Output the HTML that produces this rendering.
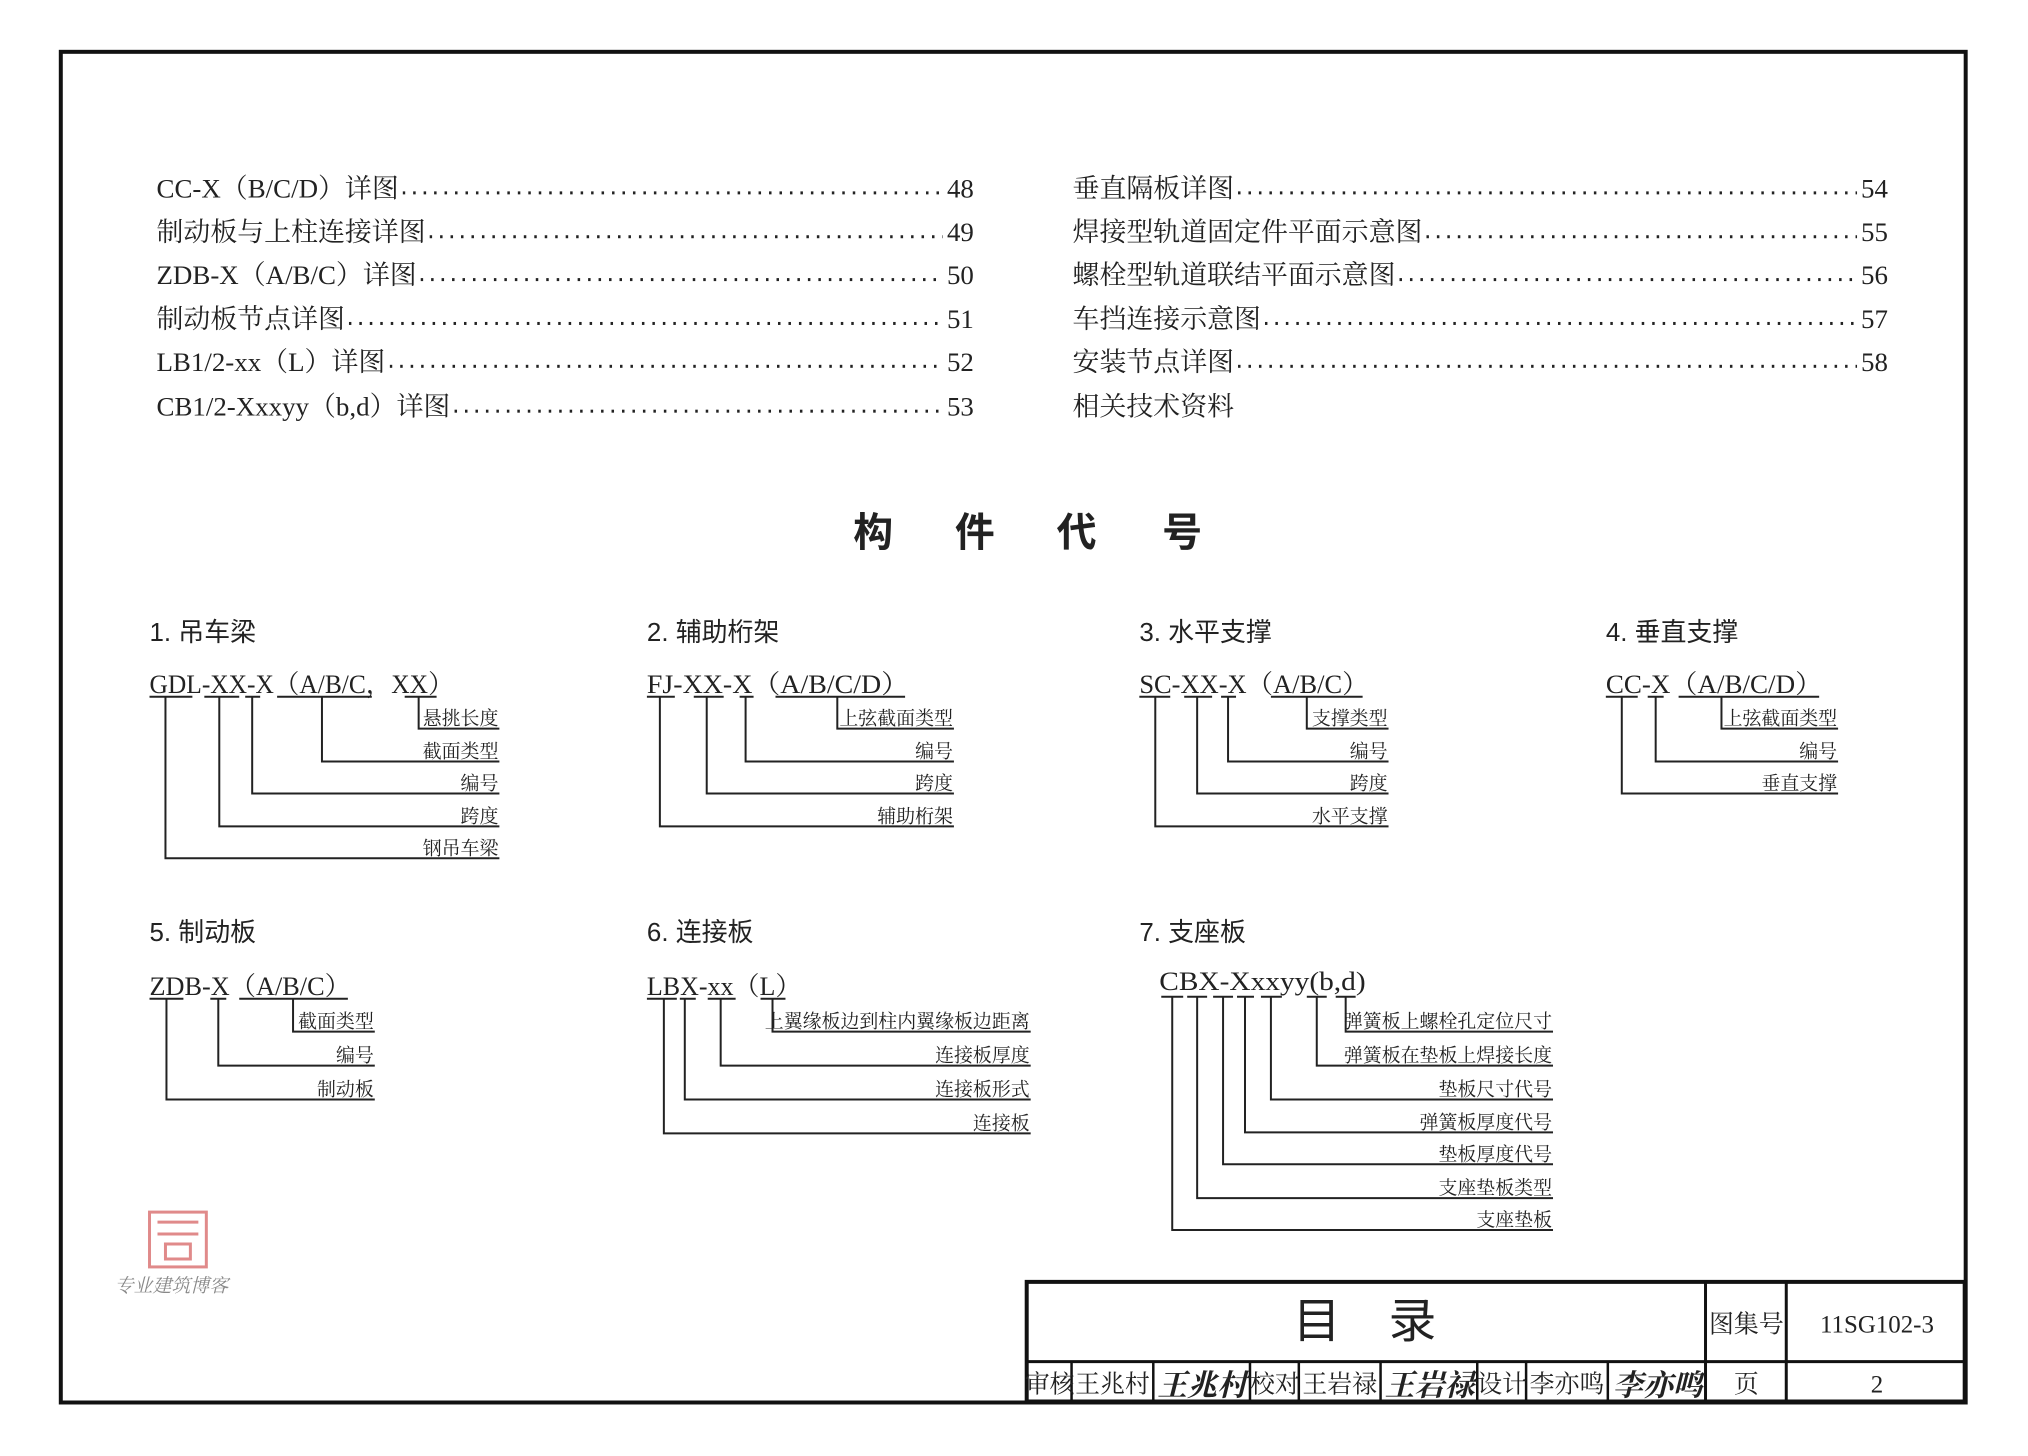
<!DOCTYPE html>
<html><head><meta charset="utf-8"><style>
html,body{margin:0;padding:0;background:#fff}
body{width:2028px;height:1456px;position:relative;overflow:hidden}
#w{position:absolute;left:0;top:0;width:2028px;height:1456px;transform:translate(-2px,-2px) scale(0.9968);transform-origin:0 0}
.t{position:absolute;font-family:"Liberation Serif","Noto Serif CJK SC",serif;font-size:27px;color:#222;height:34px;line-height:34px;display:flex;white-space:nowrap}
.t .d{flex:1;margin:0 4px;height:34px;background-image:linear-gradient(to right,#222 2.6px,transparent 2.6px);background-size:10.5px 2.6px;background-position:0 20px;background-repeat:repeat-x}
</style></head><body><div id="w">
<div style="position:absolute;left:61px;top:52px;width:1907px;height:1351px;border:4px solid #111"></div>

<div class="t" style="left:159px;top:174px;width:820px"><span>CC-X（B/C/D）详图</span><span class="d"></span><span>48</span></div>
<div class="t" style="left:159px;top:218px;width:820px"><span>制动板与上柱连接详图</span><span class="d"></span><span>49</span></div>
<div class="t" style="left:159px;top:261px;width:820px"><span>ZDB-X（A/B/C）详图</span><span class="d"></span><span>50</span></div>
<div class="t" style="left:159px;top:305px;width:820px"><span>制动板节点详图</span><span class="d"></span><span>51</span></div>
<div class="t" style="left:159px;top:348px;width:820px"><span>LB1/2-xx（L）详图</span><span class="d"></span><span>52</span></div>
<div class="t" style="left:159px;top:393px;width:820px"><span>CB1/2-Xxxyy（b,d）详图</span><span class="d"></span><span>53</span></div>

<div class="t" style="left:1078px;top:174px;width:818px"><span>垂直隔板详图</span><span class="d"></span><span>54</span></div>
<div class="t" style="left:1078px;top:218px;width:818px"><span>焊接型轨道固定件平面示意图</span><span class="d"></span><span>55</span></div>
<div class="t" style="left:1078px;top:261px;width:818px"><span>螺栓型轨道联结平面示意图</span><span class="d"></span><span>56</span></div>
<div class="t" style="left:1078px;top:305px;width:818px"><span>车挡连接示意图</span><span class="d"></span><span>57</span></div>
<div class="t" style="left:1078px;top:348px;width:818px"><span>安装节点详图</span><span class="d"></span><span>58</span></div>
<div class="t" style="left:1078px;top:393px;width:818px"><span>相关技术资料</span></div>

<svg width="2028" height="1456" style="position:absolute;left:0;top:0" font-family="Liberation Serif,Noto Serif CJK SC,serif" fill="#222">
<g font-family="Liberation Sans,Noto Sans CJK SC,sans-serif" font-weight="bold" font-size="40">
<text x="858" y="550">构</text><text x="960" y="550">件</text><text x="1062" y="550">代</text><text x="1168" y="550">号</text>
</g>
<g font-family="Liberation Sans,Noto Sans CJK SC,sans-serif" font-size="26">
<text x="152" y="645">1. 吊车梁</text><text x="651" y="645">2. 辅助桁架</text><text x="1145" y="645">3. 水平支撑</text><text x="1613" y="645">4. 垂直支撑</text>
<text x="152" y="946">5. 制动板</text><text x="651" y="946">6. 连接板</text><text x="1145" y="946">7. 支座板</text>
</g>
<g font-size="26">
<text x="152" y="697" textLength="305" lengthAdjust="spacingAndGlyphs">GDL-XX-X（A/B/C，XX）</text>
<text x="651" y="697" textLength="263" lengthAdjust="spacingAndGlyphs">FJ-XX-X（A/B/C/D）</text>
<text x="1145" y="697" textLength="230" lengthAdjust="spacingAndGlyphs">SC-XX-X（A/B/C）</text>
<text x="1613" y="697" textLength="217" lengthAdjust="spacingAndGlyphs">CC-X（A/B/C/D）</text>
<text x="152" y="1000" textLength="202" lengthAdjust="spacingAndGlyphs">ZDB-X（A/B/C）</text>
<text x="651" y="1000" textLength="155" lengthAdjust="spacingAndGlyphs">LBX-xx（L）</text>
<text x="1165" y="995" textLength="207" lengthAdjust="spacingAndGlyphs">CBX-Xxxyy(b,d)</text>
</g>
<g stroke="#222" stroke-width="2" fill="none">
<path d="M152 701H195M207 701H242M248 701H263M280 701H375M408 701H440"/>
<path d="M422 701V733H503M325 701V766H503M255 701V798H503M222 701V831H503M168 701V863H503"/>
<path d="M651 701H679M698 701H728M744 701H758M780 701H910"/>
<path d="M842 701V733H959M750 701V766H959M711 701V798H959M664 701V831H959"/>
<path d="M1145 701H1176M1190 701H1218M1227 701H1242M1277 701H1369"/>
<path d="M1313 701V733H1395M1234 701V766H1395M1203 701V798H1395M1161 701V831H1395"/>
<path d="M1613 701H1645M1655 701H1671M1686 701H1827"/>
<path d="M1729 701V733H1846M1663 701V766H1846M1629 701V798H1846"/>
<path d="M152 1004H186M213 1004H229M242 1004H351"/>
<path d="M296 1004V1037H378M221 1004V1071H378M169 1004V1105H378"/>
<path d="M651 1004H681M684 1004H700M712 1004H740M765 1004H790"/>
<path d="M777 1004V1037H1036M725 1004V1071H1036M689 1004V1105H1036M668 1004V1139H1036"/>
<path d="M1167 1002H1189M1193 1002H1213M1219 1002H1239M1243 1002H1260M1267 1002H1288M1313 1002H1333M1342 1002H1362"/>
<path d="M1352 1002V1037H1560M1323 1002V1071H1560M1277 1002V1105H1560M1251 1002V1138H1560M1229 1002V1170H1560M1203 1002V1204H1560M1178 1002V1236H1560"/>
</g>
<g font-size="19" text-anchor="end">
<text x="502" y="729">悬挑长度</text><text x="502" y="762">截面类型</text><text x="502" y="794">编号</text><text x="502" y="827">跨度</text><text x="502" y="859">钢吊车梁</text>
<text x="958" y="729">上弦截面类型</text><text x="958" y="762">编号</text><text x="958" y="794">跨度</text><text x="958" y="827">辅助桁架</text>
<text x="1394" y="729">支撑类型</text><text x="1394" y="762">编号</text><text x="1394" y="794">跨度</text><text x="1394" y="827">水平支撑</text>
<text x="1845" y="729">上弦截面类型</text><text x="1845" y="762">编号</text><text x="1845" y="794">垂直支撑</text>
<text x="377" y="1033">截面类型</text><text x="377" y="1067">编号</text><text x="377" y="1101">制动板</text>
<text x="1035" y="1033">上翼缘板边到柱内翼缘板边距离</text><text x="1035" y="1067">连接板厚度</text><text x="1035" y="1101">连接板形式</text><text x="1035" y="1135">连接板</text>
<text x="1559" y="1033">弹簧板上螺栓孔定位尺寸</text><text x="1559" y="1067">弹簧板在垫板上焊接长度</text><text x="1559" y="1101">垫板尺寸代号</text><text x="1559" y="1134">弹簧板厚度代号</text><text x="1559" y="1166">垫板厚度代号</text><text x="1559" y="1200">支座垫板类型</text><text x="1559" y="1232">支座垫板</text>
</g>
<g stroke="#e08a8a" stroke-width="3" fill="none">
<rect x="152" y="1218" width="57" height="55"/><path d="M160 1228H201M160 1240H201M168 1250H193V1265H168Z"/>
</g>
<text x="117" y="1298" font-size="19" fill="#888" font-style="italic">专业建筑博客</text>
<g stroke="#111" fill="none">
<rect x="1032" y="1288" width="941" height="120" stroke-width="4"/>
<path d="M1032 1368H1973M1713 1288V1408M1794 1288V1408" stroke-width="3"/>
<path d="M1077 1368V1408M1159 1368V1408M1256 1368V1408M1305 1368V1408M1387 1368V1408M1484 1368V1408M1533 1368V1408M1615 1368V1408" stroke-width="2.5"/>
</g>
<text x="1371" y="1344" font-size="48" text-anchor="middle" font-family="Liberation Sans,Noto Sans CJK SC,sans-serif">目　录</text>
<g font-size="25" text-anchor="middle">
<text x="1754" y="1339">图集号</text><text x="1885" y="1339">11SG102-3</text>
<text x="1754" y="1399">页</text><text x="1885" y="1399">2</text>
<text x="1055" y="1399">审核</text><text x="1118" y="1399">王兆村</text><text x="1281" y="1399">校对</text><text x="1346" y="1399">王岩禄</text><text x="1509" y="1399">设计</text><text x="1574" y="1399">李亦鸣</text>
</g>
<g font-size="30" font-weight="bold" text-anchor="middle" font-style="italic">
<text x="1208" y="1402">王兆村</text><text x="1436" y="1402">王岩禄</text><text x="1665" y="1402">李亦鸣</text>
</g>
</svg>
</div></body></html>
